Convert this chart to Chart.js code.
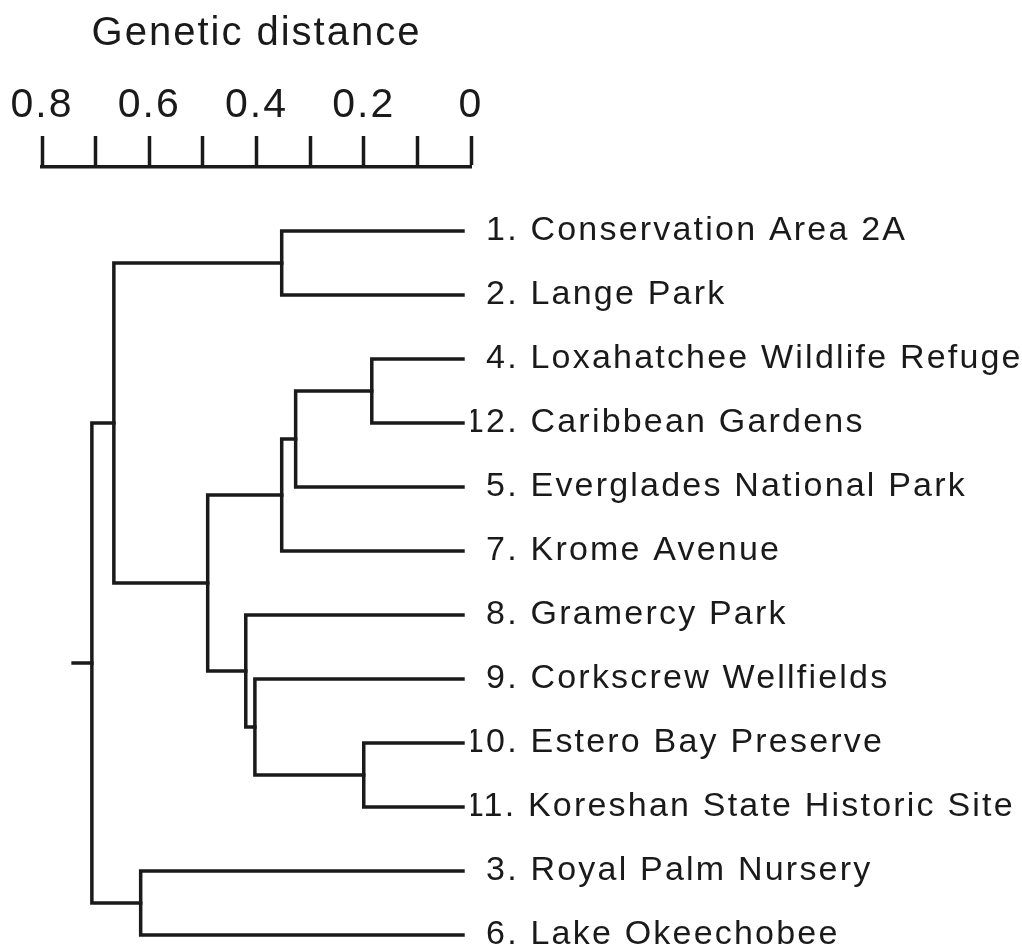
<!DOCTYPE html>
<html lang="en">
<head>
<meta charset="UTF-8">
<title>Genetic distance dendrogram</title>
<style>
  body { margin: 0; background: #fff; }
  #wrap { width: 1022px; height: 950px; }
</style>
</head>
<body>
<div id="wrap"><canvas id="tree"></canvas></div>
<script src="https://cdn.jsdelivr.net/npm/chart.js"></script>
<script>
// leaves, top to bottom
const leafNames = [
  '1. Conservation Area 2A',
  '2. Lange Park',
  '4. Loxahatchee Wildlife Refuge',
  '12. Caribbean Gardens',
  '5. Everglades National Park',
  '7. Krome Avenue',
  '8. Gramercy Park',
  '9. Corkscrew Wellfields',
  '10. Estero Bay Preserve',
  '11. Koreshan State Historic Site',
  '3. Royal Palm Nursery',
  '6. Lake Okeechobee'
];

// merges in order. ids 0-11 are leaves, merge i becomes id 12+i
const mergeA = [2, 8, 12, 0, 14, 7, 6, 16, 10, 15, 21];
const mergeB = [3, 9, 4, 1, 5, 13, 17, 18, 11, 19, 20];
const mergeHeight = [0.185, 0.200, 0.327, 0.353, 0.353, 0.403, 0.420, 0.491, 0.616, 0.666, 0.707];
const leafTip = 0.015;
const rootStub = 0.742;

// scale bar
const scaleTicks = [0, 0.1, 0.2, 0.3, 0.4, 0.5, 0.6, 0.7, 0.8];
const scaleLabels = ['0', '', '0.2', '', '0.4', '', '0.6', '', '0.8'];

const ink = '#1a1a1a';
const fontFamily = "'Liberation Sans', Arial, sans-serif";

// work out node positions from the merges
const nodeY = leafNames.map((n, i) => i);
const nodeH = leafNames.map(() => leafTip);
const datasets = [];
mergeA.forEach((a, i) => {
  const b = mergeB[i];
  const h = mergeHeight[i];
  nodeY.push((nodeY[a] + nodeY[b]) / 2);
  nodeH.push(h);
  datasets.push({
    data: [
      {x: nodeH[a], y: nodeY[a]},
      {x: h, y: nodeY[a]},
      {x: h, y: nodeY[b]},
      {x: nodeH[b], y: nodeY[b]}
    ]
  });
});
const root = nodeY.length - 1;
datasets.push({data: [{x: nodeH[root], y: nodeY[root]}, {x: rootStub, y: nodeY[root]}]});
datasets.forEach(d => {
  d.showLine = true;
  d.borderColor = ink;
  d.borderWidth = 3.5;
  d.pointRadius = 0;
  d.borderJoinStyle = 'miter';
  d.borderCapStyle = 'square';
  d.clip = false;
});

// the picture's lettering is a bit spread out
const spacing = {
  id: 'spacing',
  beforeDraw(chart) { chart.ctx.letterSpacing = '2px'; },
  afterDatasetsDraw(chart) { chart.ctx.letterSpacing = '2.2px'; },
  afterDraw(chart) { chart.ctx.letterSpacing = '0px'; }
};

new Chart(document.getElementById('tree'), {
  type: 'scatter',
  data: {datasets: datasets},
  plugins: [spacing],
  options: {
    responsive: true,
    maintainAspectRatio: false,
    animation: false,
    layout: {padding: {left: 42, right: 0, top: 0, bottom: 15}},
    plugins: {legend: {display: false}, tooltip: {enabled: false}},
    scales: {
      x: {
        type: 'linear',
        position: 'top',
        reverse: true,
        min: 0,
        max: 0.8,
        afterBuildTicks: s => { s.ticks = scaleTicks.map(v => ({value: v})); },
        afterFit: s => { s.height = 167; },
        ticks: {
          autoSkip: false,
          maxRotation: 0,
          padding: 6,
          color: ink,
          font: {family: fontFamily, size: 41},
          callback: (v, i) => scaleLabels[i]
        },
        grid: {drawOnChartArea: false, drawTicks: true, tickLength: 31, tickWidth: 3.5, tickColor: ink},
        border: {display: true, width: 3.5, color: ink},
        title: {
          display: true,
          text: 'Genetic distance',
          color: ink,
          font: {family: fontFamily, size: 40},
          padding: {top: 10, bottom: 0}
        }
      },
      y: {
        type: 'linear',
        position: 'right',
        reverse: true,
        min: -1,
        max: 11,
        afterBuildTicks: s => { s.ticks = leafNames.map((n, i) => ({value: i})); },
        afterFit: s => { s.width = 551; },
        ticks: {
          autoSkip: false,
          padding: -6,
          z: 1,
          color: ink,
          font: {family: fontFamily, size: 34},
          callback: v => {
            const name = leafNames[v];
            return /^\d\./.test(name) ? '\u2007' + name : name;
          }
        },
        grid: {display: false, drawTicks: false},
        border: {display: false}
      }
    }
  }
});
</script>
</body>
</html>
